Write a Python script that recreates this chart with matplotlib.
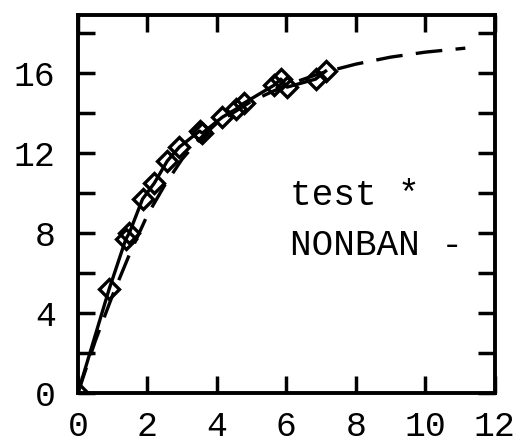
import numpy as np
import matplotlib
matplotlib.use('Agg')
import matplotlib.pyplot as plt

# measured series (diamonds, solid line)
test_x = [0.0, 0.9, 1.38, 1.48, 1.86, 2.2, 2.57, 2.92, 3.5, 3.58, 4.16, 4.55, 4.78, 5.65, 5.84, 6.02, 6.84, 7.13]
test_y = [0.0, 5.2, 7.7, 8.0, 9.7, 10.5, 11.6, 12.3, 13.1, 13.0, 13.8, 14.2, 14.5, 15.4, 15.7, 15.3, 15.7, 16.1]

# model curve (dashed)
nonban_x = [0.0, 0.5, 1.0, 1.5, 2.0, 2.5, 3.0, 3.5, 4.0, 5.0, 6.0, 7.0, 8.0, 9.0, 10.0, 11.15]
nonban_y = [0.0, 2.6, 4.9, 7.0, 8.9, 10.4, 11.7, 12.7, 13.5, 14.6, 15.4, 16.0, 16.45, 16.8, 17.05, 17.25]

xticks = [0, 2, 4, 6, 8, 10, 12]
yticks = [0, 4, 8, 12, 16]

plt.rcParams['font.family'] = ['Liberation Mono', 'DejaVu Sans Mono']

fig = plt.figure(figsize=(5.16, 4.46), dpi=100)
ax = fig.add_axes([0.151, 0.119, 0.808, 0.847])

ax.plot(nonban_x, nonban_y, color='black', linestyle=(0, (8, 4)), linewidth=2.4)
ax.plot(test_x, test_y, color='black', linestyle='-', linewidth=2.4,
        marker='D', markersize=10, markerfacecolor='none', markeredgewidth=2.4)

ax.text(6.1, 9.9, 'test *', fontsize=26, va='center', ha='left')
ax.text(6.1, 7.4, 'NONBAN -', fontsize=26, va='center', ha='left')

ax.set_xlim(0, 12)
ax.set_ylim(0, 18.9)
ax.set_xticks(xticks)
ax.set_yticks(yticks)
ax.set_yticks(np.arange(2, 19, 4), minor=True)
ax.tick_params(which='both', direction='in', top=True, right=True, width=2.5, labelsize=25)
ax.tick_params(axis='x', pad=12)
ax.tick_params(axis='y', pad=16)
ax.tick_params(which='both', length=12)
for s in ax.spines.values():
    s.set_linewidth(2.8)

fig.savefig('out.png', dpi=100)
